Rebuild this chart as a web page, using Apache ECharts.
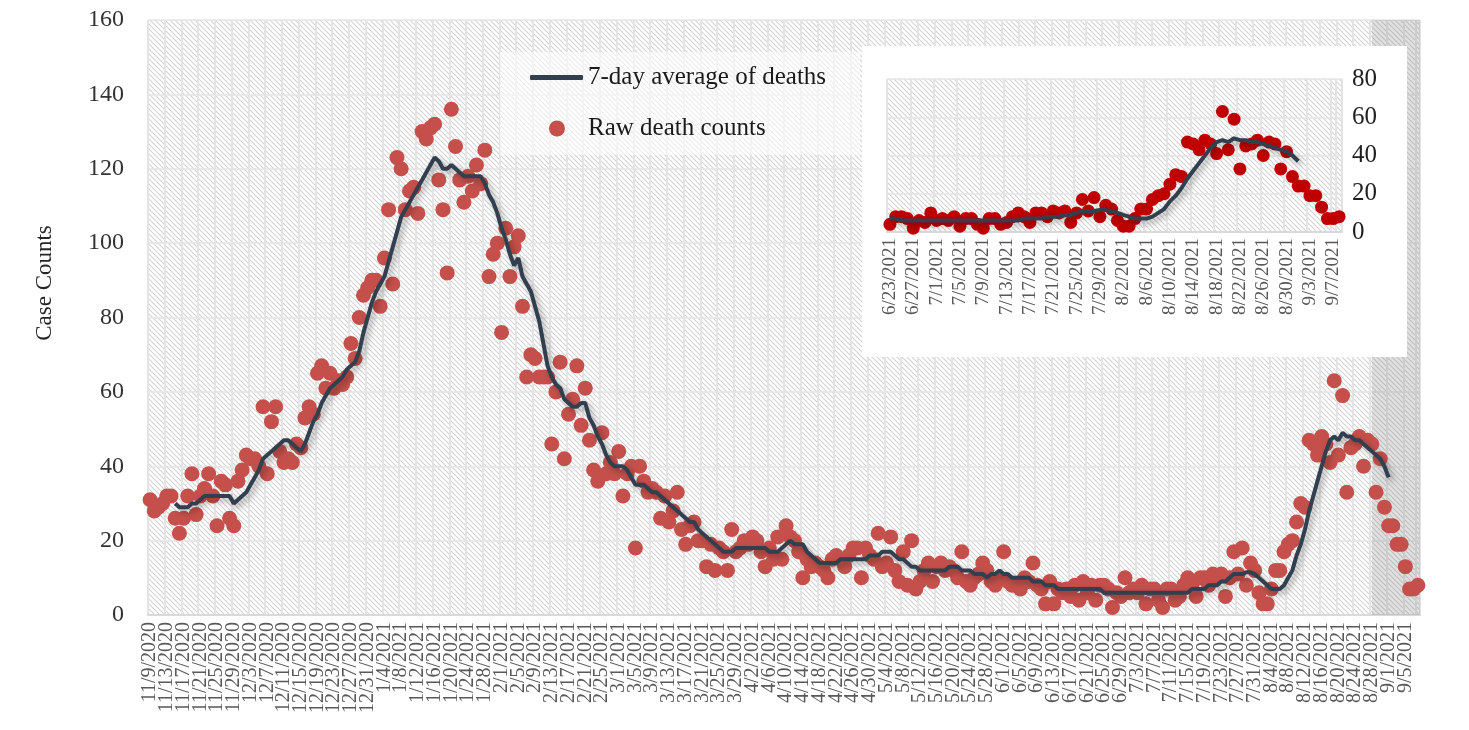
<!DOCTYPE html>
<html><head><meta charset="utf-8">
<script src="https://cdn.jsdelivr.net/npm/echarts@6/dist/echarts.min.js"></script>
<style>html,body{margin:0;padding:0;background:#fff;}#c{width:1469px;height:730px;}</style>
</head><body><div id="c"></div>
<script>
// ---- data ----
const firstDay = [2020, 10, 9];   // 11/9/2020 (month is 0-based)
const dayCount = 304;             // through 9/8/2021
const insetStartIndex = 226;      // 6/23/2021
const labelEvery = 4;             // a tick label every 4 days

const rawDeaths = [
 31,28,29,30,32,32,26,22,26,32,
 38,27,32,34,38,32,24,36,35,26,
 24,36,39,43,42,42,40,56,38,52,
 56,44,41,42,41,46,45,53,56,54,
 65,67,61,65,61,63,62,64,73,69,
 80,86,88,90,90,83,96,109,89,123,
 120,109,114,115,108,130,128,131,132,117,
 109,92,136,126,117,111,118,114,121,116,
 125,91,97,100,76,104,91,99,102,83,
 64,70,69,64,64,64,46,60,68,42,
 54,58,67,51,61,47,39,36,49,38,
 41,38,44,32,38,40,18,40,36,33,
 34,33,26,32,25,28,33,23,19,24,
 25,20,20,13,19,12,18,17,12,23,
 17,18,20,19,21,20,17,13,18,15,
 21,15,24,21,20,17,10,15,13,14,
 13,12,10,15,16,15,13,16,18,18,
 10,18,16,15,22,13,14,21,12,9,
 17,8,20,7,9,12,14,9,13,14,
 12,13,12,10,17,9,8,10,11,14,
 12,9,8,10,17,9,8,8,7,10,
 9,14,8,7,3,9,3,7,6,7,
 5,8,4,9,6,8,
 4,8,8,7,2,6,5,10,6,7,
 6,8,3,7,7,4,2,7,7,4,
 5,8,10,8,5,10,10,8,11,10,
 11,5,10,17,11,18,8,14,12,6,
 3,3,7,12,12,17,19,20,25,30,
 29,47,46,43,48,46,41,63,43,59,
 33,45,46,48,40,47,46,33,42,29,
 24,24,19,19,13,7,7,8
];

const avgDeaths = [
 null,null,null,null,null,null,30,29,29,29,
 30,30,31,32,32,32,32,32,32,32,
 30,31,32,33,35,37,39,42,43,44,
 45,46,47,47,46,45,44,46,49,52,
 54,57,59,61,62,63,64,66,67,68,
 71,76,80,84,87,89,91,95,99,103,
 107,109,111,113,115,117,119,121,123,122,
 120,120,121,120,119,118,118,118,118,118,
 116,113,111,108,104,101,97,94,96,91,
 89,87,83,79,73,67,64,62,61,58,
 57,56,56,57,57,53,51,48,46,43,
 41,40,40,40,39,37,35,35,35,34,
 33,33,32,31,30,29,28,27,26,25,
 25,23,22,21,20,19,18,17,17,17,
 18,18,18,18,18,18,18,18,17,17,
 17,18,19,20,19,19,19,17,16,15,
 14,14,14,14,14,15,15,15,15,15,
 15,15,16,16,16,17,17,17,16,15,
 15,14,13,13,12,12,12,12,12,12,
 12,13,13,13,12,12,12,11,11,11,
 10,11,11,12,11,11,10,10,10,10,
 10,9,9,9,8,8,8,7,7,7,
 7,7,7,7,7,7,7,7,6,6,
 6,6,6,6,6,6,6,6,6,6,
 6,6,6,6,6,6,6,6,6,7,
 7,7,7,8,8,8,9,9,10,11,
 11,11,11.5,11.5,11,10,9,8,7,7,
 7,8,10,12,16,19,23,28,32,36,
 40,44,47,48,47,49,48,48,47,47,
 46,45,44,43,42,40,37,null,null,null,
 null,null,null,null
];

const seriesNames = ['7-day average of deaths', 'Raw death counts'];
const mainShadeStart = '8/28/2021';
const insetShadeStart = '9/1/2021';
const yAxisMain = {min: 0, max: 160, interval: 20};
const yAxisInset = {min: 0, max: 80, interval: 20};
const yAxisTitle = 'Case Counts';

// ---- categories ----
const categories = [];
for (let i = 0; i < dayCount; i++) {
  const d = new Date(Date.UTC(firstDay[0], firstDay[1], firstDay[2] + i));
  categories.push((d.getUTCMonth() + 1) + '/' + d.getUTCDate() + '/' + d.getUTCFullYear());
}
const insetCats = categories.slice(insetStartIndex);
const insetRaw = rawDeaths.slice(insetStartIndex);
const insetAvg = avgDeaths.slice(insetStartIndex);

// ---- hatch pattern ----
function hatch(size, lineColor, lw) {
  const c = document.createElement('canvas');
  c.width = size; c.height = size;
  const g = c.getContext('2d');
  g.fillStyle = '#ffffff'; g.fillRect(0, 0, size, size);
  g.strokeStyle = lineColor; g.lineWidth = lw;
  g.beginPath();
  g.moveTo(-1, -1); g.lineTo(size + 1, size + 1);
  g.moveTo(size - 1, -1); g.lineTo(size + 1, 1);
  g.moveTo(-1, size - 1); g.lineTo(1, size + 1);
  g.stroke();
  return c;
}
const hatchImg = hatch(5, '#d4d4d4', 1.2);

const serif = 'Liberation Serif';
const navy = '#323F4F';

const xLabel = (size, margin) => ({interval: 0, rotate: 90, fontFamily: serif, fontSize: size,
  color: '#595959', margin: margin, hideOverlap: false,
  formatter: (value, index) => (index % labelEvery === 0 ? value : '')});

const chart = echarts.init(document.getElementById('c'), null, {renderer: 'canvas'});
chart.setOption({
  animation: false,
  backgroundColor: '#ffffff',
  grid: [
    {left: 148, right: 49, top: 20, bottom: 115, show: true, borderWidth: 0,
     backgroundColor: {image: hatchImg, repeat: 'repeat'}},
    {left: 887, width: 455, top: 79, height: 153, show: true, borderWidth: 0, z: 5,
     backgroundColor: {image: hatchImg, repeat: 'repeat'}}
  ],
  xAxis: [
    {type: 'category', gridIndex: 0, data: categories,
     axisLine: {show: true, lineStyle: {color: '#d9d9d9', width: 2}},
     axisTick: {show: false},
     axisLabel: xLabel(20, 7),
     splitLine: {show: true, interval: labelEvery - 1, lineStyle: {color: '#e4e4e4', width: 2}}},
    {type: 'category', gridIndex: 1, data: insetCats, z: 5,
     axisLine: {show: true, lineStyle: {color: '#d9d9d9', width: 2}},
     axisTick: {show: false},
     axisLabel: xLabel(19, 6),
     splitLine: {show: true, interval: labelEvery - 1, lineStyle: {color: '#e4e4e4', width: 2}}}
  ],
  yAxis: [
    {type: 'value', gridIndex: 0, min: yAxisMain.min, max: yAxisMain.max, interval: yAxisMain.interval,
     axisLine: {show: false}, axisTick: {show: false},
     axisLabel: {fontFamily: serif, fontSize: 24, color: '#333333', margin: 24},
     splitLine: {show: true, lineStyle: {color: '#e4e4e4', width: 1.5}}},
    {type: 'value', gridIndex: 1, position: 'right', z: 5,
     min: yAxisInset.min, max: yAxisInset.max, interval: yAxisInset.interval,
     axisLine: {show: false}, axisTick: {show: false},
     axisLabel: {fontFamily: serif, fontSize: 25, color: '#1f1f1f', margin: 10},
     splitLine: {show: true, lineStyle: {color: '#e4e4e4', width: 1.5}}}
  ],
  legend: [
    {data: [{name: seriesNames[0], icon: 'roundRect'}], left: 530, top: 65, orient: 'vertical', padding: 0,
     itemWidth: 53, itemHeight: 5, itemGap: 0,
     textStyle: {fontFamily: serif, fontSize: 25, lineHeight: 25, color: '#1a1a1a'}},
    {data: [{name: seriesNames[1], icon: 'circle'}], left: 549, top: 116, orient: 'vertical', padding: 0,
     itemWidth: 16, itemHeight: 16, itemGap: 0,
     textStyle: {fontFamily: serif, fontSize: 25, lineHeight: 25, color: '#1a1a1a', padding: [0, 0, 0, 18]}}
  ],
  graphic: [
    {type: 'rect', z: 1, shape: {x: 500, y: 52, width: 360, height: 103},
     style: {fill: 'rgba(255,255,255,0.55)'}},
    {type: 'rect', z: 4, shape: {x: 862, y: 46, width: 545, height: 311},
     style: {fill: '#ffffff'}},
    {type: 'text', x: 45, y: 283, rotation: Math.PI / 2, z: 1,
     style: {text: yAxisTitle, font: '23px "Liberation Serif"', fill: '#262626', align: 'center', verticalAlign: 'middle'}}
  ],
  series: [
    {name: seriesNames[1], type: 'scatter', xAxisIndex: 0, yAxisIndex: 0, data: rawDeaths,
     symbolSize: 15, itemStyle: {color: '#C5504B', opacity: 1}, z: 2,
     markArea: {silent: true, itemStyle: {color: 'rgba(120,120,120,0.22)'},
       data: [[{xAxis: mainShadeStart}, {xAxis: Infinity}]]}},
    {name: seriesNames[0], type: 'line', xAxisIndex: 0, yAxisIndex: 0, data: avgDeaths,
     showSymbol: false, symbol: 'none', connectNulls: false, z: 3,
     lineStyle: {color: navy, width: 4, shadowColor: 'rgba(0,0,0,0.35)', shadowBlur: 6, shadowOffsetX: 3, shadowOffsetY: 3},
     itemStyle: {color: navy}},
    {name: 'inset raw', type: 'scatter', xAxisIndex: 1, yAxisIndex: 1, data: insetRaw,
     symbolSize: 13, itemStyle: {color: '#C00000', opacity: 1}, z: 6,
     markArea: {silent: true, itemStyle: {color: 'rgba(120,120,120,0.25)'},
       data: [[{xAxis: insetShadeStart}, {xAxis: Infinity}]]}},
    {name: 'inset avg', type: 'line', xAxisIndex: 1, yAxisIndex: 1, data: insetAvg,
     showSymbol: false, symbol: 'none', z: 7,
     lineStyle: {color: navy, width: 4, shadowColor: 'rgba(0,0,0,0.35)', shadowBlur: 6, shadowOffsetX: 3, shadowOffsetY: 3}}
  ]
});
</script>
</body></html>
